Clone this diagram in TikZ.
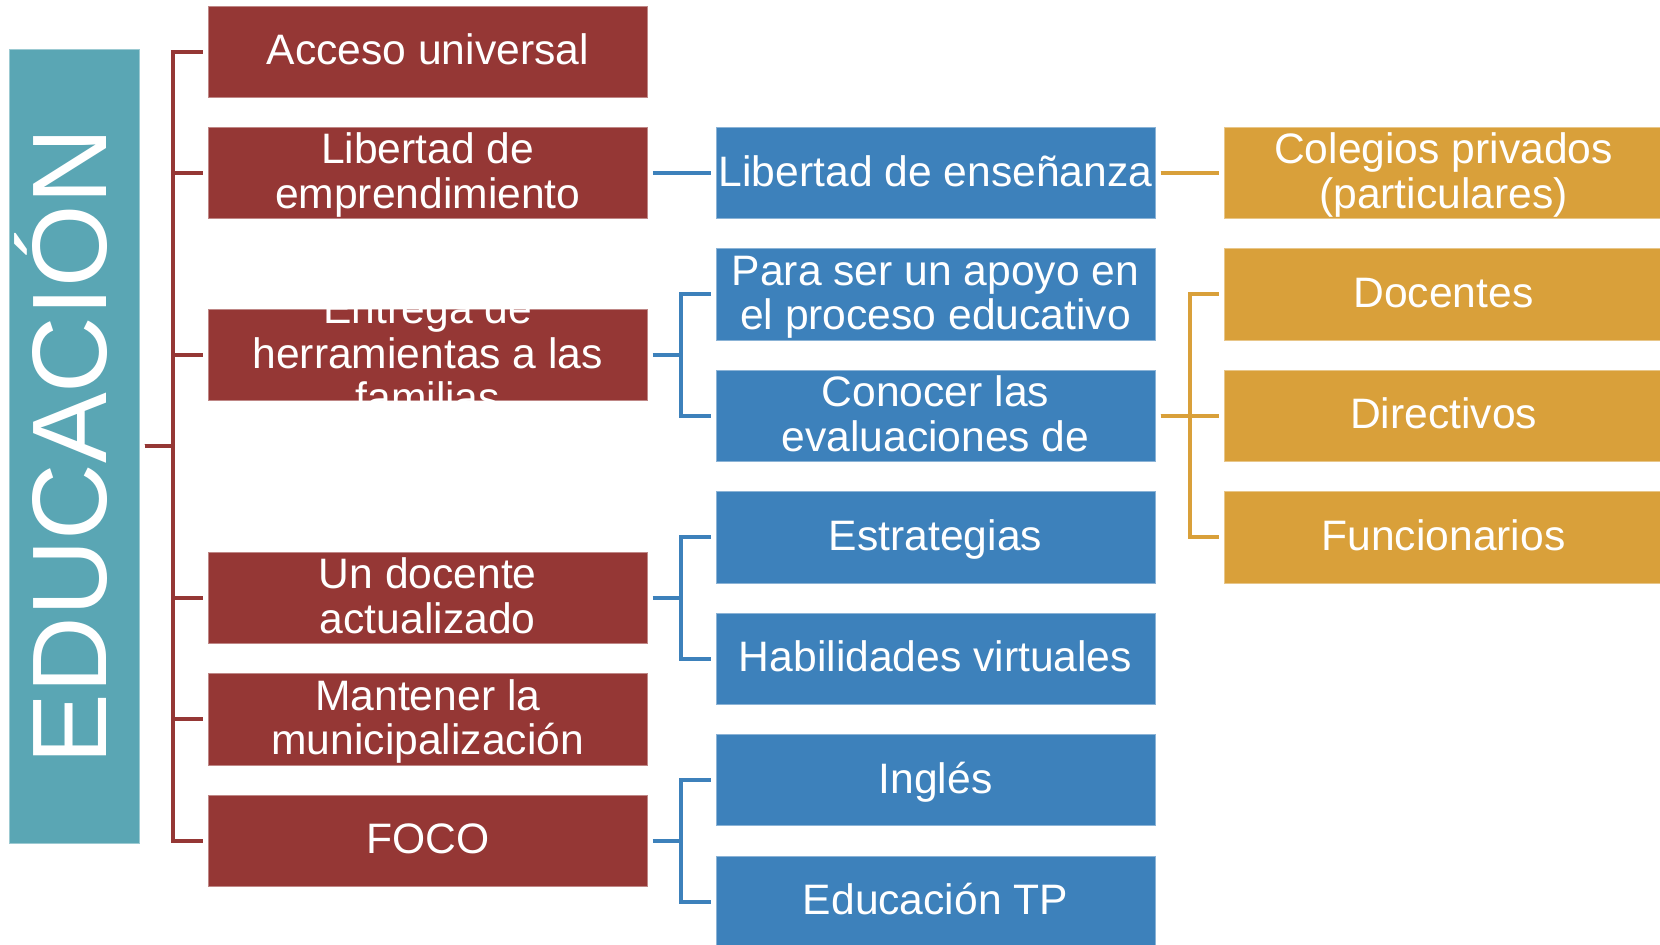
\documentclass[tikz,border=0pt]{standalone}
\usepackage{fontspec}
\setmainfont{Liberation Sans}
\definecolor{rojo}{HTML}{953735}
\definecolor{verdeazul}{HTML}{5AA6B4}
\definecolor{azul}{HTML}{3D81BB}
\definecolor{oro}{HTML}{D9A03A}
\newcommand\topstrut{\rule{0pt}{17.6pt}}
\newcommand\botstrut{\rule[-4.62pt]{0pt}{4.62pt}}
\begin{document}
\begin{tikzpicture}[x=0.5pt,y=-0.5pt,
  anybox/.style={rectangle, minimum width=219.5pt, minimum height=45.65pt,
    inner sep=0pt, outer sep=0pt, text=white,
    font=\fontsize{21.3}{22.4}\selectfont, align=center},
  one/.style={text height=17.6pt, text depth=4.62pt},
  rbox/.style={anybox, fill=rojo, draw=rojo!60!white, line width=0.4pt},
  bbox/.style={anybox, fill=azul, draw=azul!60!white, line width=0.4pt},
  obox/.style={anybox, fill=oro, draw=oro!60!white, line width=0.4pt},
  link/.style={line width=2pt, shorten <=2.75pt, shorten >=2.75pt},
  rl/.style={link, draw=rojo},
  bl/.style={link, draw=azul},
  ol/.style={link, draw=oro}]
\useasboundingbox (0,0) rectangle (1660,945);
\fill[white] (0,0) rectangle (1660,945);
\clip (0,0) rectangle (1660,945);

% root
\node[rectangle, fill=verdeazul, draw=verdeazul!60!white, line width=0.4pt,
  minimum width=65pt, minimum height=397pt, inner sep=0pt, outer sep=0pt] (root) at (74,446) {};
\node[text=white, font=\fontsize{53}{53}\selectfont, rotate=90, anchor=base, inner sep=0pt] (roottext) at (106,446) {EDUCACIÓN};

% red column
\node[rbox, one] (r1) at (427.75,51.65) {Acceso universal};
\node[rbox] (r2) at (427.75,173.1) {\topstrut Libertad de\\emprendimiento\botstrut};
\node[rbox] (r3) at (427.75,355.2) {};
\begin{scope}
\clip (r3.north west) rectangle (r3.south east);
\node[anybox, fill=none] (r3text) at (r3.center) {\topstrut Entrega de\\herramientas a las\\familias\botstrut};
\end{scope}
\node[rbox] (r4) at (427.75,598.1) {\topstrut Un docente\\actualizado\botstrut};
\node[rbox] (r5) at (427.75,719.5) {\topstrut Mantener la\\municipalización\botstrut};
\node[rbox, one] (r6) at (427.75,840.9) {FOCO};

% blue column
\node[bbox, one] (b1) at (935.5,173.1) {Libertad de enseñanza};
\node[bbox] (b2) at (935.5,294.5) {\topstrut Para ser un apoyo en\\el proceso educativo\botstrut};
\node[bbox] (b3) at (935.5,415.9) {\topstrut Conocer las\\evaluaciones de\botstrut};
\node[bbox, one] (b4) at (935.5,537.4) {Estrategias};
\node[bbox, one] (b5) at (935.5,658.8) {Habilidades virtuales};
\node[bbox, one] (b6) at (935.5,780.2) {Inglés};
\node[bbox, one] (b7) at (935.5,901.7) {Educación TP};

% orange column
\node[obox] (o1) at (1443.5,173.1) {\topstrut Colegios privados\\(particulares)\botstrut};
\node[obox, one] (o2) at (1443.5,294.5) {Docentes};
\node[obox, one] (o3) at (1443.5,415.9) {Directivos};
\node[obox, one] (o4) at (1443.5,537.4) {Funcionarios};

% buses
\coordinate (rbus) at (173,0);
\coordinate (bbus) at (681,0);
\coordinate (obus) at (1190,0);

% red links
\foreach \c in {r1,r2,r3,r4,r5,r6}
  \draw[rl] (root.east) -| (rbus |- \c.west) -- (\c.west);

% blue links
\draw[bl] (r2.east) -- (b1.west);
\foreach \c in {b2,b3}
  \draw[bl] (r3.east) -| (bbus |- \c.west) -- (\c.west);
\foreach \c in {b4,b5}
  \draw[bl] (r4.east) -| (bbus |- \c.west) -- (\c.west);
\foreach \c in {b6,b7}
  \draw[bl] (r6.east) -| (bbus |- \c.west) -- (\c.west);

% orange links
\draw[ol] (b1.east) -- (o1.west);
\foreach \c in {o2,o3,o4}
  \draw[ol] (b3.east) -| (obus |- \c.west) -- (\c.west);
\end{tikzpicture}
\end{document}
